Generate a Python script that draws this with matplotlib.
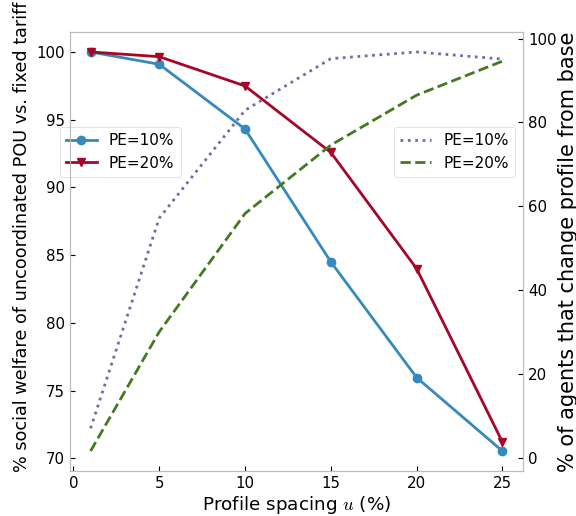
import matplotlib
matplotlib.use('Agg')
import matplotlib.pyplot as plt

# profile spacing u (%)
spacing = [1, 5, 10, 15, 20, 25]

# social welfare of uncoordinated POU vs. fixed tariff (%)
welfare_pe10 = [100.0, 99.09, 94.31, 84.5, 75.96, 70.53]
welfare_pe20 = [100.0, 99.65, 97.49, 92.58, 84.0, 71.2]

# agents that change profile from base (%)
changed_pe10 = [7.1, 57.2, 82.9, 95.2, 96.8, 95.1]
changed_pe20 = [1.7, 30.1, 58.3, 74.6, 86.5, 94.6]

plt.style.use('bmh')
plt.rcParams['xtick.labelsize'] = 10.8
plt.rcParams['ytick.labelsize'] = 10.8
plt.rcParams['legend.fontsize'] = 11
plt.rcParams['legend.facecolor'] = 'white'

fig, ax = plt.subplots(figsize=(5.76, 5.16), dpi=100)
fig.subplots_adjust(left=0.1215, right=0.908, top=0.938, bottom=0.0872)
ax.set_facecolor('white')
ax.grid(False)

ax.plot(spacing, welfare_pe10, 'o-', color='#348ABD', label='PE=10%')
ax.plot(spacing, welfare_pe20, 'v-', color='#A60628', label='PE=20%')
ax.set_xlabel('Profile spacing $u$ (%)', fontsize=13.2, labelpad=2.5)
ax.set_ylabel('% social welfare of uncoordinated POU vs. fixed tariff',
              fontsize=12.7, y=0.533)
ax.set_xticks([0, 5, 10, 15, 20, 25])
ax.legend(loc='upper left', bbox_to_anchor=(-0.022, 0.784), borderaxespad=0)

ax2 = ax.twinx()
ax2.grid(False)
ax2.plot(spacing, changed_pe10, ':', color='#7A68A6', label='PE=10%')
ax2.plot(spacing, changed_pe20, '--', color='#467821', label='PE=20%')
ax2.set_ylabel('% of agents that change profile from base', fontsize=15,
               labelpad=1.5)
ax2.set_yticks([0, 20, 40, 60, 80, 100])
ax2.legend(loc='upper right', bbox_to_anchor=(0.982, 0.784), borderaxespad=0)

plt.savefig('out.png', dpi=100)
